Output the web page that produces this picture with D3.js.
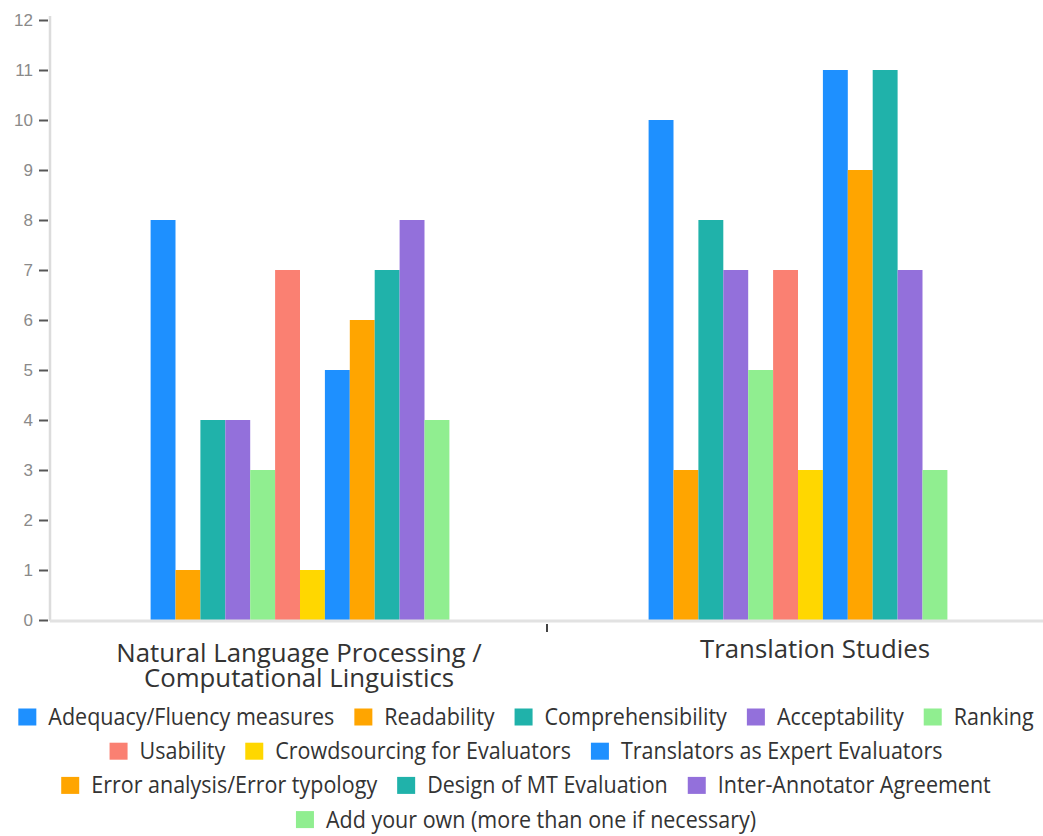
<!DOCTYPE html>
<html>
<head>
<meta charset="utf-8">
<script src="https://cdn.jsdelivr.net/npm/d3@7"></script>
<style>
  html, body { margin: 0; padding: 0; background: #fff; }
  svg { display: block; font-family: "Open Sans", "Noto Sans", sans-serif; }
</style>
</head>
<body>
<svg id="chart" width="1043" height="836"></svg>
<script>
// Research areas (x categories)
const categories = ["Natural Language Processing / Computational Linguistics", "Translation Studies"];
const categoryLines = [["Natural Language Processing /", "Computational Linguistics"], ["Translation Studies"]];

// Evaluation topics (series)
const series = [
  "Adequacy/Fluency measures", "Readability", "Comprehensibility", "Acceptability", "Ranking",
  "Usability", "Crowdsourcing for Evaluators", "Translators as Expert Evaluators",
  "Error analysis/Error typology", "Design of MT Evaluation", "Inter-Annotator Agreement",
  "Add your own (more than one if necessary)"
];

// Counts per topic, one array per research area
const nlpValues = [8, 1, 4, 4, 3, 7, 1, 5, 6, 7, 8, 4];
const tsValues  = [10, 3, 8, 7, 5, 7, 3, 11, 9, 11, 7, 3];

const yTicks = [0, 1, 2, 3, 4, 5, 6, 7, 8, 9, 10, 11, 12];

const palette = ["#1E90FF", "#FFA500", "#20B2AA", "#9370DB", "#90EE90", "#FA8072", "#FFD700"];

const valuesByCategory = [nlpValues, tsValues];

const svg = d3.select("#chart");
const margin = { left: 51, right: -4, top: 20, bottom: 216 };
const W = 1043, H = 836;
const baseY = H - margin.bottom; // 620

const x0 = d3.scaleBand().domain(categories).range([margin.left, W - margin.right]).paddingInner(0).paddingOuter(0);
const x1 = d3.scaleBand().domain(series).range([x0.bandwidth() * 0.2, x0.bandwidth() * 0.8]).padding(0);
const y = d3.scaleLinear().domain([0, 12]).range([baseY, margin.top]);
const color = d3.scaleOrdinal().domain(series).range(palette);

// Y axis
const yAxis = svg.append("g").attr("transform", `translate(${margin.left - 1},0)`)
  .call(d3.axisLeft(y).tickValues(yTicks).tickSize(11).tickPadding(6).tickFormat(d3.format("d")));
yAxis.select(".domain").attr("stroke", "#dcdcdc").attr("stroke-width", 2.5).attr("d", `M0,${y(12) - 4}V${baseY + 1}`);
yAxis.selectAll(".tick line").attr("stroke", "#555").attr("stroke-width", 2).attr("x1", -2).attr("x2", -11);
yAxis.selectAll(".tick text").attr("fill", "#8a8a8a").attr("font-size", 17).attr("x", -17);

// Bars
const groups = svg.append("g").selectAll("g")
  .data(categories)
  .join("g")
  .attr("transform", d => `translate(${x0(d)},0)`);

groups.selectAll("rect")
  .data((d, i) => series.map((s, j) => ({ s, v: valuesByCategory[i][j] })))
  .join("rect")
  .attr("x", d => x1(d.s))
  .attr("width", x1.bandwidth())
  .attr("y", d => y(d.v))
  .attr("height", d => baseY - y(d.v))
  .attr("fill", d => color(d.s));

// X axis
const xAxis = svg.append("g").attr("transform", `translate(0,${baseY + 1})`)
  .call(d3.axisBottom(x0).tickSize(0).tickFormat(""));
xAxis.select(".domain").attr("stroke", "#e2e2e2").attr("stroke-width", 3).attr("d", `M${margin.left - 1},0H${W}`);
xAxis.selectAll(".tick").remove();
// divider tick between the two categories
svg.append("line")
  .attr("x1", x0(categories[1]) - 2).attr("x2", x0(categories[1]) - 2)
  .attr("y1", baseY + 4).attr("y2", baseY + 12)
  .attr("stroke", "#444").attr("stroke-width", 2);

// Category labels
const labelShift = [-1, 17];
const labelBase = [42, 38];
categories.forEach((c, i) => {
  const cx = x0(c) + x0.bandwidth() / 2 + labelShift[i];
  const t = svg.append("text")
    .attr("x", cx)
    .attr("y", baseY + labelBase[i])
    .attr("text-anchor", "middle")
    .attr("fill", "#333")
    .attr("font-size", 25.8);
  categoryLines[i].forEach((line, k) => {
    t.append("tspan")
      .attr("x", cx)
      .attr("dy", k === 0 ? 0 : 25)
      .text(line);
  });
});

// Legend: items flow into centred rows
const legend = svg.append("g").attr("class", "legend");
const sw = 17, gapText = 12, gapItem = 20, maxRow = 1030, legendCenter = 526;
const rowY0 = 717, rowStep = 34.2;
const sx = 0.935;
const items = series.map(s => {
  const g = legend.append("g");
  g.append("rect").attr("width", sw + 1).attr("height", sw).attr("y", -sw / 2).attr("fill", color(s));
  const t = g.append("text")
    .attr("font-size", 23)
    .attr("fill", "#333")
    .attr("dy", "0.35em")
    .attr("transform", `translate(${sw + 1 + gapText},0) scale(${sx},1)`)
    .text(s);
  const w = sw + 1 + gapText + t.node().getComputedTextLength() * sx;
  return { g, w };
});
const rows = [];
let cur = [], curW = 0;
items.forEach(it => {
  const add = cur.length ? gapItem + it.w : it.w;
  if (cur.length && curW + add > maxRow) { rows.push({ items: cur, w: curW }); cur = [it]; curW = it.w; }
  else { cur.push(it); curW += add; }
});
if (cur.length) rows.push({ items: cur, w: curW });
rows.forEach((r, ri) => {
  let xx = legendCenter - r.w / 2;
  r.items.forEach(it => {
    it.g.attr("transform", `translate(${xx},${rowY0 + ri * rowStep})`);
    xx += it.w + gapItem;
  });
});
</script>
</body>
</html>
